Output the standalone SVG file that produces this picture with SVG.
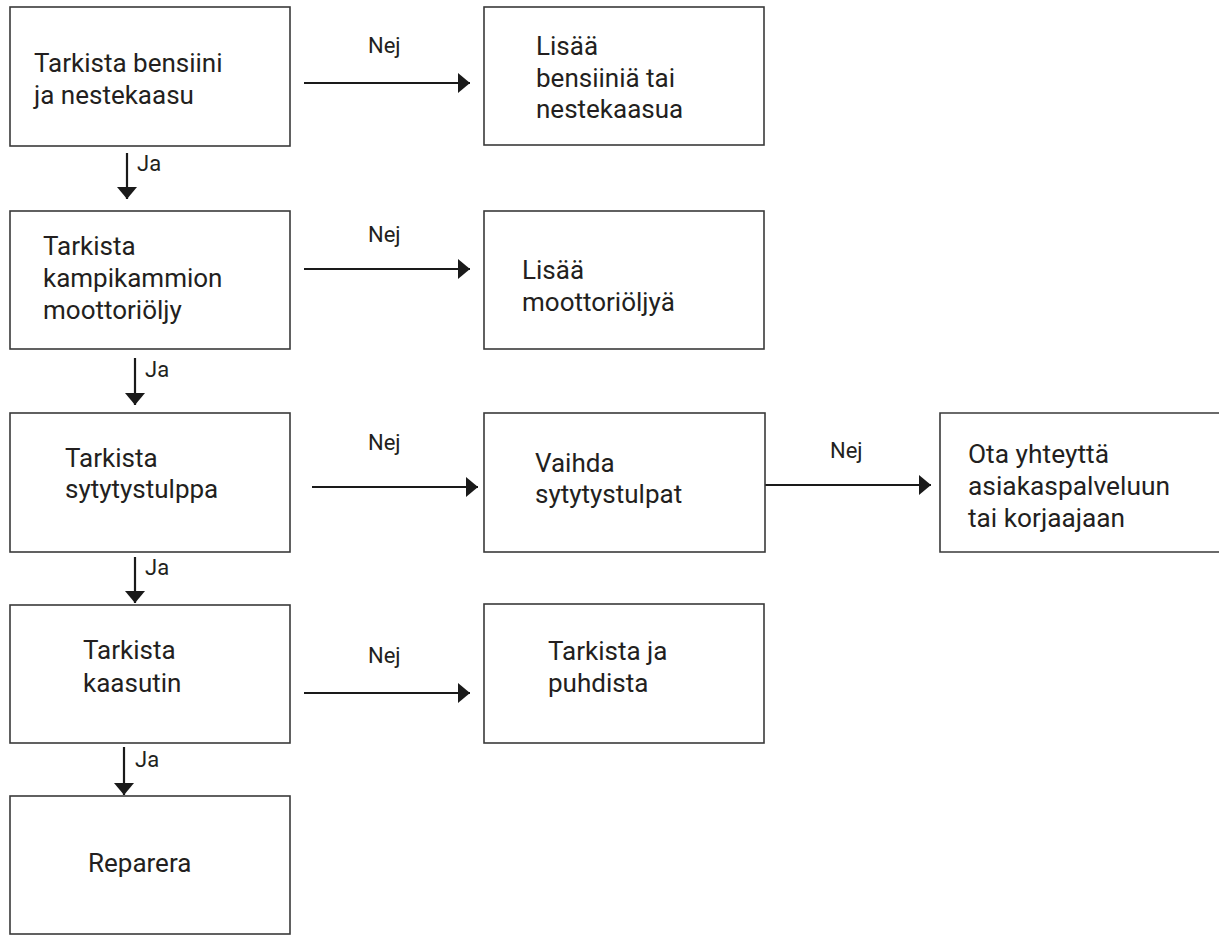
<svg xmlns="http://www.w3.org/2000/svg" width="1219" height="935" viewBox="0 0 1219 935">
<style>
.box{fill:#fff;stroke:#3a3a3a;stroke-width:1.6}
.t{font-family:Roboto,"Liberation Sans",sans-serif;font-size:26px;fill:#231f20}
.l{font-family:Roboto,"Liberation Sans",sans-serif;font-size:22px;fill:#231f20}
.c{stroke:#1a1a1a;stroke-width:2.2;fill:none}
</style>
<defs>
<marker id="ah" viewBox="0 0 12 20" refX="12" refY="10" markerWidth="12" markerHeight="20" markerUnits="userSpaceOnUse" orient="auto">
<path d="M0,0 L12,10 L0,20 Z" fill="#1a1a1a"/>
</marker>
</defs>
<rect width="1219" height="935" fill="#fff"/>
<g id="connectors">
<line class="c" x1="304" y1="83" x2="470" y2="83" marker-end="url(#ah)"/>
<text class="l" x="368" y="53">Nej</text>
<line class="c" x1="127" y1="153" x2="127" y2="199" marker-end="url(#ah)"/>
<text class="l" x="137" y="171">Ja</text>
<line class="c" x1="304" y1="269" x2="470" y2="269" marker-end="url(#ah)"/>
<text class="l" x="368" y="242">Nej</text>
<line class="c" x1="135" y1="358" x2="135" y2="405" marker-end="url(#ah)"/>
<text class="l" x="145" y="377">Ja</text>
<line class="c" x1="312" y1="487" x2="478" y2="487" marker-end="url(#ah)"/>
<text class="l" x="368" y="450">Nej</text>
<line class="c" x1="765" y1="485" x2="931" y2="485" marker-end="url(#ah)"/>
<text class="l" x="830" y="458">Nej</text>
<line class="c" x1="135" y1="557" x2="135" y2="603" marker-end="url(#ah)"/>
<text class="l" x="145" y="575">Ja</text>
<line class="c" x1="304" y1="693" x2="470" y2="693" marker-end="url(#ah)"/>
<text class="l" x="368" y="663">Nej</text>
<line class="c" x1="124" y1="747" x2="124" y2="795" marker-end="url(#ah)"/>
<text class="l" x="135" y="767">Ja</text>
</g>
<g id="n1">
<rect class="box" x="10" y="7" width="280" height="139"/>
<text class="t" x="34" y="72">Tarkista bensiini</text>
<text class="t" x="34" y="104">ja nestekaasu</text>
</g>
<g id="n2">
<rect class="box" x="484" y="7" width="280" height="138"/>
<text class="t" x="536" y="55">Lisää</text>
<text class="t" x="536" y="87">bensiiniä tai</text>
<text class="t" x="536" y="118">nestekaasua</text>
</g>
<g id="n3">
<rect class="box" x="10" y="211" width="280" height="138"/>
<text class="t" x="43" y="255">Tarkista</text>
<text class="t" x="43" y="287">kampikammion</text>
<text class="t" x="43" y="319">moottoriöljy</text>
</g>
<g id="n4">
<rect class="box" x="484" y="211" width="280" height="138"/>
<text class="t" x="522" y="279">Lisää</text>
<text class="t" x="522" y="311">moottoriöljyä</text>
</g>
<g id="n5">
<rect class="box" x="10" y="413" width="280" height="139"/>
<text class="t" x="65" y="467">Tarkista</text>
<text class="t" x="65" y="498">sytytystulppa</text>
</g>
<g id="n6">
<rect class="box" x="484" y="413" width="281" height="139"/>
<text class="t" x="535" y="472">Vaihda</text>
<text class="t" x="535" y="503">sytytystulpat</text>
</g>
<g id="n7">
<path class="box" d="M1222,413 H940 V552 H1222"/>
<text class="t" x="968" y="463" textLength="141" lengthAdjust="spacingAndGlyphs">Ota yhteyttä</text>
<text class="t" x="968" y="495" textLength="202" lengthAdjust="spacingAndGlyphs">asiakaspalveluun</text>
<text class="t" x="968" y="527" textLength="157" lengthAdjust="spacingAndGlyphs">tai korjaajaan</text>
</g>
<g id="n8">
<rect class="box" x="10" y="605" width="280" height="138"/>
<text class="t" x="83" y="659">Tarkista</text>
<text class="t" x="83" y="692">kaasutin</text>
</g>
<g id="n9">
<rect class="box" x="484" y="604" width="280" height="139"/>
<text class="t" x="548" y="660">Tarkista ja</text>
<text class="t" x="548" y="692">puhdista</text>
</g>
<g id="n10">
<rect class="box" x="10" y="796" width="280" height="138"/>
<text class="t" x="88" y="872">Reparera</text>
</g>
</svg>
